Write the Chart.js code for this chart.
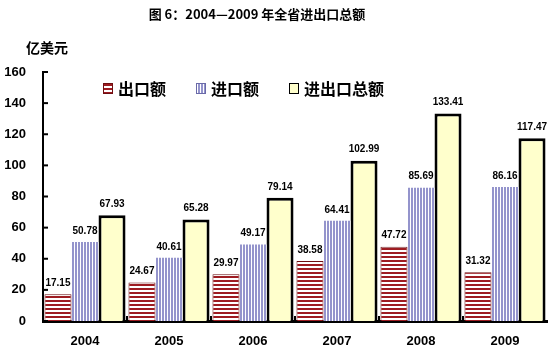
<!DOCTYPE html>
<html>
<head>
<meta charset="utf-8">
<script src="https://cdn.jsdelivr.net/npm/chart.js@4"></script>
<style>
  html, body { margin: 0; padding: 0; background: #fff; }
  #wrap { width: 554px; height: 354px; }
</style>
</head>
<body>
<div id="wrap"><canvas id="myChart" width="554" height="354"></canvas></div>
<script>
var categories = ['2004', '2005', '2006', '2007', '2008', '2009'];
var exportValues = [17.15, 24.67, 29.97, 38.58, 47.72, 31.32];
var importValues = [50.78, 40.61, 49.17, 64.41, 85.69, 86.16];
var totalValues = [67.93, 65.28, 79.14, 102.99, 133.41, 117.47];
var seriesNames = ['出口额', '进口额', '进出口总额'];
var yTicks = [0, 20, 40, 60, 80, 100, 120, 140, 160];

var titleText = '图 6：2004—2009 年全省进出口总额';
var unitText = '亿美元';

var cjk = '"Noto Sans CJK SC", "Liberation Sans", sans-serif';
var num = '"Liberation Sans", Arial, sans-serif';

// striped fills like the old excel patterns
function stripes(horizontal, color, size, band) {
  var c = document.createElement('canvas');
  c.width = size; c.height = size;
  var g = c.getContext('2d');
  g.fillStyle = '#ffffff';
  g.fillRect(0, 0, size, size);
  g.fillStyle = color;
  if (horizontal) g.fillRect(0, 0, size, band);
  else g.fillRect(0, 0, band, size);
  return g.createPattern(c, 'repeat');
}

var ctx = document.getElementById('myChart').getContext('2d');
var redStripes = stripes(true, '#9e1c22', 4, 2);
var blueStripes = stripes(false, '#9494cc', 3, 2);

var textPlugin = {
  id: 'texts',
  afterDatasetsDraw: function (chart) {
    var c = chart.ctx;
    c.save();
    // value labels above each bar
    c.fillStyle = '#000';
    c.font = 'bold 10px ' + num;
    c.textAlign = 'center';
    c.textBaseline = 'middle';
    chart.data.datasets.forEach(function (ds, i) {
      chart.getDatasetMeta(i).data.forEach(function (bar, j) {
        c.fillText(ds.data[j].toFixed(2), bar.x, bar.y - 11);
      });
    });

    // small inward ticks on the axes
    var xs = chart.scales.x, ys = chart.scales.y;
    c.strokeStyle = '#000';
    c.lineWidth = 2;
    yTicks.forEach(function (v) {
      var py = ys.getPixelForValue(v);
      c.beginPath();
      c.moveTo(chart.chartArea.left, py);
      c.lineTo(chart.chartArea.left + 5, py);
      c.stroke();
    });
    var step = (chart.chartArea.right - chart.chartArea.left) / categories.length;
    for (var k = 1; k < categories.length; k++) {
      var px = chart.chartArea.left + k * step;
      c.beginPath();
      c.moveTo(px, chart.chartArea.bottom);
      c.lineTo(px, chart.chartArea.bottom - 5);
      c.stroke();
    }

    // title and unit
    c.textAlign = 'center';
    c.font = 'bold 13px ' + cjk;
    c.fillText(titleText, 257, 14);
    c.textAlign = 'left';
    c.font = 'bold 14px ' + cjk;
    c.fillText(unitText, 26, 48);

    // legend inside the plot
    var lx = 103, ly = 88;
    c.font = 'bold 16px ' + cjk;
    chart.data.datasets.forEach(function (ds) {
      c.fillStyle = ds.backgroundColor;
      c.fillRect(lx, ly - 5, 9, 10);
      c.strokeStyle = ds.legendBorder;
      c.lineWidth = 1;
      c.strokeRect(lx + 0.5, ly - 4.5, 9, 10);
      c.fillStyle = '#000';
      c.fillText(ds.label, lx + 15, ly + 1);
      lx += 15 + c.measureText(ds.label).width + 30;
    });
    c.restore();
  }
};

var chart = new Chart(ctx, {
  type: 'bar',
  data: {
    labels: categories,
    datasets: [
      {
        label: seriesNames[0],
        data: exportValues,
        backgroundColor: redStripes,
        borderColor: '#6e0f12',
        legendBorder: '#6e0f12',
        borderWidth: 1,
      },
      {
        label: seriesNames[1],
        data: importValues,
        backgroundColor: blueStripes,
        borderColor: '#8a8ac4',
        legendBorder: '#6a6aa8',
        borderWidth: 0,
      },
      {
        label: seriesNames[2],
        data: totalValues,
        backgroundColor: '#ffffcc',
        borderColor: '#000000',
        legendBorder: '#000000',
        borderWidth: 3,
      },
    ]
  },
  options: {
    responsive: false,
    animation: false,
    events: [],
    categoryPercentage: 0.965,
    barPercentage: 1,
    layout: { padding: { top: 72, right: 7, left: 0, bottom: 0 } },
    plugins: {
      legend: { display: false },
      title: { display: false },
      tooltip: { enabled: false },
    },
    scales: {
      x: {
        grid: { display: false, drawTicks: false },
        border: { display: true, color: '#000', width: 3 },
        ticks: {
          color: '#000',
          padding: 13,
          font: { family: num, size: 13, weight: 'bold' },
        },
        afterFit: function (scale) { scale.height = 33; },
      },
      y: {
        min: 0,
        max: 160,
        grid: { display: false, drawTicks: false },
        border: { display: true, color: '#000', width: 2 },
        ticks: {
          stepSize: 20,
          color: '#000',
          padding: 17,
          font: { family: num, size: 13, weight: 'bold' },
        },
        afterFit: function (scale) { scale.width = 43; },
      }
    }
  },
  plugins: [textPlugin]
});
</script>
</body>
</html>
